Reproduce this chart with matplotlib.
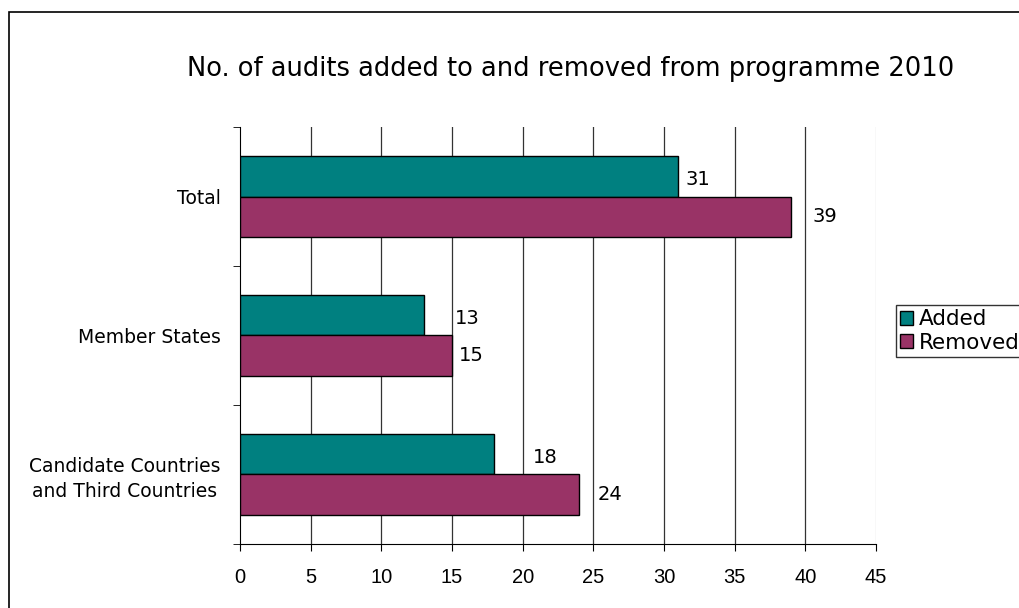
import numpy as np
import matplotlib.pyplot as plt
from matplotlib.patches import Rectangle

categories = ['Total', 'Member States', 'Candidate Countries\nand Third Countries']
added = [31, 13, 18]
removed = [39, 15, 24]
# label nudges (data units) to mimic the spreadsheet label placement
added_off = [0.5, 2.2, 2.7]
removed_off = [1.5, 0.5, 1.3]

teal = '#008080'
maroon = '#993366'

fig = plt.figure(figsize=(10.2, 6.08), dpi=100)
ax = fig.add_axes([0.2353, 0.1053, 0.8588 - 0.2353, 0.7911 - 0.1053])

y = np.arange(len(categories))
h = 0.29
ax.barh(y - h / 2, added, height=h, color=teal, edgecolor='black', linewidth=1, label='Added', zorder=3)
ax.barh(y + h / 2, removed, height=h, color=maroon, edgecolor='black', linewidth=1, label='Removed', zorder=3)

for i in range(len(categories)):
    ax.text(added[i] + added_off[i], y[i] - h / 2 + 0.02, str(added[i]), va='center', ha='left',
            fontsize=14, family='DejaVu Sans')
    ax.text(removed[i] + removed_off[i], y[i] + h / 2, str(removed[i]), va='center', ha='left',
            fontsize=14, family='DejaVu Sans')

ax.set_xlim(0, 45)
ax.set_ylim(2.5, -0.5)
ax.set_xticks(range(0, 46, 5))
ax.set_xticklabels([str(v) for v in range(0, 46, 5)], family='Liberation Sans', fontsize=14.5)
ax.set_yticks(y)
ax.set_yticklabels(categories, family='DejaVu Sans', fontsize=13.5, ha='right', multialignment='center',
                   linespacing=1.35)
ax.tick_params(axis='y', length=0, pad=14)
ax.set_yticks([-0.5, 0.5, 1.5, 2.5], minor=True)
ax.tick_params(axis='y', which='minor', length=5, direction='out', color='black')
ax.tick_params(axis='x', length=5, direction='out', color='black', pad=12)

for v in range(5, 41, 5):
    ax.axvline(v, color='#333333', linewidth=0.9, zorder=1)
ax.axvline(45, color='#cccccc', linewidth=0.9, zorder=1)

for s in ['top', 'right']:
    ax.spines[s].set_visible(False)
ax.spines['left'].set_color('black')
ax.spines['bottom'].set_color('black')

fig.text(0.559, 0.886, 'No. of audits added to and removed from programme 2010', ha='center', va='center',
         fontsize=18.5, family='DejaVu Sans')

leg = fig.legend(loc='upper left', bbox_to_anchor=(896 / 1020, 1 - 305 / 608),
                 prop={'family': 'DejaVu Sans', 'size': 15.5}, frameon=True, fancybox=False,
                 handlelength=0.6, handleheight=0.6, handletextpad=0.25, borderpad=0.2,
                 labelspacing=0.15, borderaxespad=0)
leg.get_frame().set_edgecolor('black')
leg.get_frame().set_linewidth(1)

fig.patches.append(Rectangle((9 / 1020, -0.1), 1.2, 1 - 12 / 608 + 0.1, transform=fig.transFigure,
                             fill=False, edgecolor='black', linewidth=1.2))

fig.savefig('out.png', dpi=100)
